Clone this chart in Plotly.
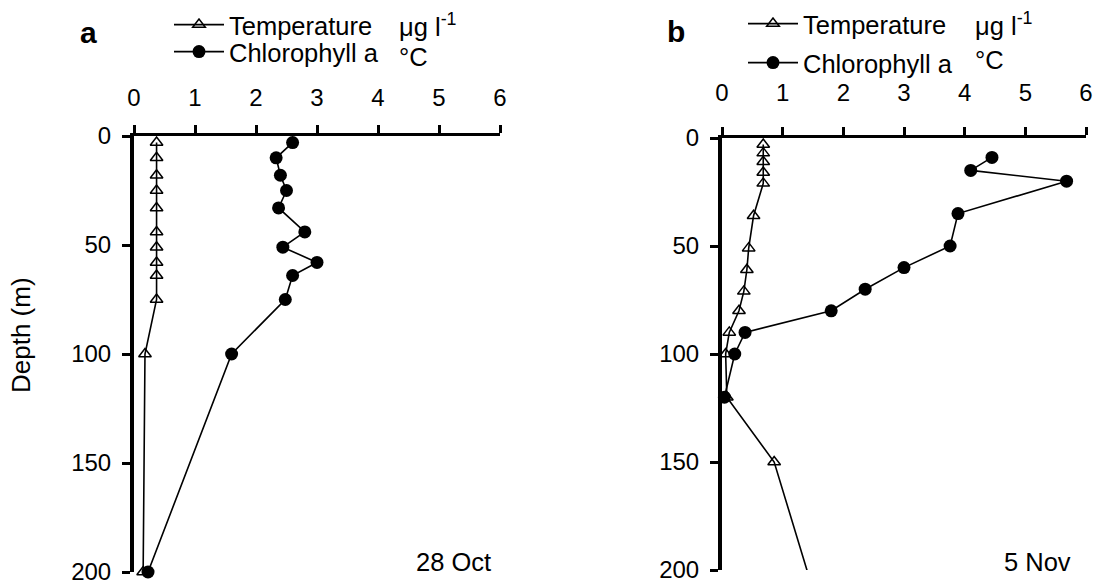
import plotly.graph_objects as go

W, H = 1099, 584
FONT = "Liberation Sans, Arial, Helvetica, sans-serif"

# ---------------- data ----------------
# Panel a (28 Oct)
depth_a = [3, 10, 18, 25, 33, 44, 51, 58, 64, 75, 100, 200]
temp_a = [0.37, 0.37, 0.37, 0.37, 0.37, 0.37, 0.37, 0.37, 0.37, 0.37, 0.18, 0.15]
chl_a = [2.6, 2.33, 2.4, 2.5, 2.37, 2.8, 2.44, 3.0, 2.6, 2.48, 1.6, 0.23]

# Panel b (5 Nov) - last temperature point lies below the 200 m axis limit
depth_b_temp = [3, 7, 11, 16, 21, 36, 51, 61, 71, 80, 90, 100, 120, 150, 250]
temp_b = [0.68, 0.68, 0.68, 0.68, 0.68, 0.52, 0.44, 0.41, 0.36, 0.28, 0.12, 0.06, 0.08, 0.86, 1.94]
depth_b_chl = [9, 15, 20, 35, 50, 60, 70, 80, 90, 100, 120]
chl_b = [4.45, 4.1, 5.68, 3.89, 3.76, 3.0, 2.36, 1.8, 0.38, 0.21, 0.04]

x_ticks = [0, 1, 2, 3, 4, 5, 6]
y_ticks = [0, 50, 100, 150, 200]
series_names = ["Temperature", "Chlorophyll a"]
units = ["μg l<sup>-1</sup>", "°C"]
panel_labels = ["a", "b"]
dates = ["28 Oct", "5 Nov"]


def px(x):
    return x / W


def py(y):
    return 1 - y / H


fig = go.Figure()

tri = dict(symbol="triangle-up-open", size=11, color="black", line=dict(width=1.5, color="black"))
dot = dict(symbol="circle", size=13, color="black")
line = dict(color="black", width=1.6)

# panel a
fig.add_trace(go.Scatter(x=temp_a, y=depth_a, mode="lines+markers", name=series_names[0],
                         marker=tri, line=line, xaxis="x", yaxis="y", cliponaxis=False, legend="legend"))
fig.add_trace(go.Scatter(x=chl_a, y=depth_a, mode="lines+markers", name=series_names[1],
                         marker=dot, line=line, xaxis="x", yaxis="y", cliponaxis=False, legend="legend2"))
# panel b
fig.add_trace(go.Scatter(x=temp_b, y=depth_b_temp, mode="lines+markers", name=series_names[0],
                         marker=tri, line=line, xaxis="x2", yaxis="y2", cliponaxis=False, legend="legend3"))
fig.add_trace(go.Scatter(x=chl_b, y=depth_b_chl, mode="lines+markers", name=series_names[1],
                         marker=dot, line=line, xaxis="x2", yaxis="y2", cliponaxis=False, legend="legend4"))

tickfont = dict(family=FONT, size=24, color="black")
TXT = 25.5


def xaxis(domain, anchor, standoff):
    return dict(domain=domain, anchor=anchor, side="top", range=[0, 6], tickvals=x_ticks,
                ticks="outside", ticklen=8, tickwidth=2.5, tickcolor="black",
                showline=True, linewidth=3, linecolor="black", showgrid=False, zeroline=False,
                tickfont=tickfont, ticklabelstandoff=standoff, ticklabeloverflow="allow",
                fixedrange=True, automargin=False)


def yaxis(domain, anchor):
    return dict(domain=domain, anchor=anchor, range=[200, 0], tickvals=y_ticks,
                ticks="outside", ticklen=8, tickwidth=2.5, tickcolor="black",
                showline=True, linewidth=4, linecolor="black", showgrid=False, zeroline=False,
                tickfont=tickfont, ticklabelstandoff=6, ticklabeloverflow="allow",
                fixedrange=True, automargin=False)


def leg(x, y):
    return dict(x=px(x), y=py(y), xanchor="left", yanchor="middle", bgcolor="rgba(0,0,0,0)",
                font=dict(family=FONT, size=TXT, color="black"), itemwidth=50, borderwidth=0)


fig.update_layout(
    width=W, height=H, margin=dict(l=0, r=0, t=0, b=0, autoexpand=False),
    paper_bgcolor="white", plot_bgcolor="white",
    font=dict(family=FONT, size=24, color="black"),
    xaxis=xaxis([px(134), px(500)], "y", 9),
    yaxis=yaxis([py(572), py(136)], "x"),
    xaxis2=xaxis([px(722), px(1086)], "y2", 16),
    yaxis2=yaxis([py(570), py(138)], "x2"),
    showlegend=True,
    legend=leg(169, 25),
    legend2=leg(169, 52),
    legend3=leg(743, 24),
    legend4=leg(743, 63),
)

ann = []
ann.append(dict(text="Depth (m)", x=px(21), y=py(335), xref="paper", yref="paper", textangle=-90,
                showarrow=False, font=dict(family=FONT, size=26), xanchor="center", yanchor="middle"))
for lab, x, y in zip(panel_labels, [88, 676], [33, 31]):
    ann.append(dict(text=f"<b>{lab}</b>", x=px(x), y=py(y), xref="paper", yref="paper", showarrow=False,
                    font=dict(family=FONT, size=30), xanchor="center", yanchor="middle"))
for d, x in zip(dates, [493, 1073]):
    ann.append(dict(text=d, x=px(x), y=py(562), xref="paper", yref="paper", showarrow=False,
                    font=dict(family=FONT, size=TXT), xanchor="right", yanchor="middle"))
for (ux, uy1, uy2) in [(397, 25, 57), (973, 24, 60)]:
    ann.append(dict(text=units[0], x=px(ux), y=py(uy1), xref="paper", yref="paper", showarrow=False,
                    font=dict(family=FONT, size=TXT), xanchor="left", yanchor="middle"))
    ann.append(dict(text=units[1], x=px(ux), y=py(uy2), xref="paper", yref="paper", showarrow=False,
                    font=dict(family=FONT, size=TXT), xanchor="left", yanchor="middle"))
fig.update_layout(annotations=ann)

fig.write_html("out.html")
